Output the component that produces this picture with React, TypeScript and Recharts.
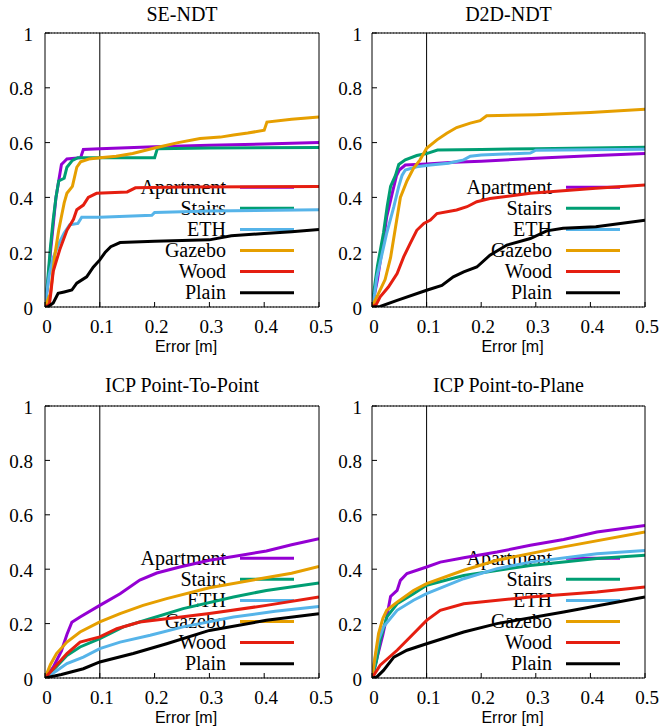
import React from 'react';
import { LineChart, Line, XAxis, YAxis, CartesianGrid, ReferenceLine, Legend, Label } from 'recharts';

type Pt = [number, number];

const seriesNames = ['Apartment', 'Stairs', 'ETH', 'Gazebo', 'Wood', 'Plain'];
const seriesColors = ['#9400D3', '#009E73', '#56B4E9', '#E69F00', '#E51E10', '#000000'];
const xTicks = [0, 0.1, 0.2, 0.3, 0.4, 0.5];
const yTicks = [0, 0.2, 0.4, 0.6, 0.8, 1];
const panelTitles = ['SE-NDT', 'D2D-NDT', 'ICP Point-To-Point', 'ICP Point-to-Plane'];
const errorThreshold = 0.1;

// SE-NDT
const seApartment: Pt[] = [[0, 0], [0.005, 0.08], [0.01, 0.2], [0.015, 0.3], [0.02, 0.4], [0.025, 0.46], [0.03, 0.52], [0.035, 0.53], [0.04, 0.54], [0.065, 0.545], [0.07, 0.575], [0.1, 0.578], [0.2, 0.585], [0.3, 0.59], [0.4, 0.595], [0.5, 0.6]];
const seStairs: Pt[] = [[0, 0], [0.005, 0.1], [0.01, 0.22], [0.015, 0.32], [0.02, 0.4], [0.025, 0.46], [0.035, 0.47], [0.04, 0.51], [0.05, 0.535], [0.06, 0.545], [0.2, 0.545], [0.205, 0.578], [0.3, 0.58], [0.5, 0.582]];
const seEth: Pt[] = [[0, 0], [0.003, 0.05], [0.008, 0.12], [0.015, 0.18], [0.025, 0.23], [0.035, 0.27], [0.045, 0.3], [0.06, 0.305], [0.067, 0.328], [0.1, 0.328], [0.195, 0.335], [0.2, 0.345], [0.3, 0.35], [0.5, 0.355]];
const seGazebo: Pt[] = [[0, 0], [0.01, 0.05], [0.018, 0.19], [0.025, 0.28], [0.03, 0.33], [0.035, 0.38], [0.04, 0.415], [0.05, 0.44], [0.058, 0.51], [0.065, 0.53], [0.08, 0.54], [0.1, 0.545], [0.13, 0.55], [0.16, 0.56], [0.2, 0.58], [0.243, 0.6], [0.283, 0.615], [0.32, 0.62], [0.344, 0.628], [0.37, 0.635], [0.4, 0.645], [0.405, 0.675], [0.45, 0.685], [0.5, 0.693]];
const seWood: Pt[] = [[0, 0], [0.008, 0.01], [0.01, 0.04], [0.015, 0.13], [0.027, 0.21], [0.04, 0.28], [0.052, 0.32], [0.058, 0.355], [0.07, 0.372], [0.079, 0.4], [0.094, 0.415], [0.15, 0.42], [0.165, 0.435], [0.25, 0.438], [0.5, 0.44]];
const sePlain: Pt[] = [[0, 0], [0.005, 0], [0.015, 0.015], [0.024, 0.05], [0.035, 0.055], [0.049, 0.062], [0.058, 0.087], [0.076, 0.11], [0.088, 0.145], [0.1, 0.172], [0.11, 0.2], [0.12, 0.22], [0.137, 0.235], [0.2, 0.24], [0.3, 0.245], [0.34, 0.26], [0.4, 0.268], [0.45, 0.275], [0.5, 0.283]];

// D2D-NDT
const d2dApartment: Pt[] = [[0, 0], [0.01, 0.1], [0.02, 0.23], [0.027, 0.33], [0.037, 0.415], [0.045, 0.48], [0.05, 0.5], [0.061, 0.518], [0.1, 0.522], [0.15, 0.528], [0.2, 0.532], [0.3, 0.543], [0.4, 0.552], [0.5, 0.56]];
const d2dStairs: Pt[] = [[0, 0], [0.005, 0.08], [0.01, 0.15], [0.021, 0.27], [0.028, 0.37], [0.034, 0.44], [0.043, 0.48], [0.049, 0.52], [0.061, 0.537], [0.082, 0.553], [0.1, 0.56], [0.12, 0.573], [0.2, 0.575], [0.3, 0.578], [0.4, 0.58], [0.5, 0.583]];
const d2dEth: Pt[] = [[0, 0], [0.005, 0.05], [0.009, 0.11], [0.018, 0.19], [0.027, 0.27], [0.04, 0.366], [0.049, 0.44], [0.055, 0.48], [0.061, 0.5], [0.082, 0.512], [0.107, 0.518], [0.14, 0.525], [0.168, 0.537], [0.18, 0.55], [0.2, 0.555], [0.29, 0.562], [0.3, 0.572], [0.4, 0.574], [0.5, 0.576]];
const d2dGazebo: Pt[] = [[0, 0], [0.012, 0.05], [0.024, 0.1], [0.034, 0.18], [0.043, 0.29], [0.052, 0.4], [0.064, 0.46], [0.076, 0.506], [0.088, 0.537], [0.1, 0.579], [0.119, 0.61], [0.137, 0.634], [0.155, 0.655], [0.18, 0.671], [0.198, 0.68], [0.21, 0.698], [0.3, 0.702], [0.4, 0.71], [0.5, 0.722]];
const d2dWood: Pt[] = [[0, 0], [0.008, 0.01], [0.015, 0.037], [0.03, 0.073], [0.046, 0.122], [0.058, 0.183], [0.07, 0.232], [0.082, 0.28], [0.095, 0.305], [0.107, 0.317], [0.119, 0.341], [0.155, 0.354], [0.174, 0.366], [0.192, 0.384], [0.216, 0.396], [0.29, 0.415], [0.41, 0.433], [0.5, 0.445]];
const d2dPlain: Pt[] = [[0, 0], [0.015, 0.002], [0.046, 0.024], [0.1, 0.061], [0.128, 0.079], [0.149, 0.11], [0.168, 0.128], [0.192, 0.146], [0.216, 0.189], [0.247, 0.226], [0.29, 0.25], [0.32, 0.278], [0.35, 0.287], [0.41, 0.293], [0.5, 0.317]];

// ICP point-to-point
const p2pApartment: Pt[] = [[0, 0], [0.015, 0.04], [0.03, 0.1], [0.04, 0.16], [0.049, 0.205], [0.064, 0.224], [0.1, 0.267], [0.137, 0.31], [0.173, 0.36], [0.204, 0.386], [0.246, 0.408], [0.3, 0.433], [0.344, 0.447], [0.404, 0.467], [0.45, 0.49], [0.5, 0.512]];
const p2pStairs: Pt[] = [[0, 0], [0.02, 0.04], [0.04, 0.083], [0.064, 0.114], [0.1, 0.145], [0.143, 0.188], [0.192, 0.218], [0.252, 0.255], [0.344, 0.298], [0.404, 0.322], [0.5, 0.349]];
const p2pEth: Pt[] = [[0, 0], [0.02, 0.025], [0.04, 0.053], [0.07, 0.077], [0.1, 0.108], [0.137, 0.132], [0.192, 0.157], [0.252, 0.188], [0.344, 0.224], [0.42, 0.245], [0.5, 0.263]];
const p2pGazebo: Pt[] = [[0, 0], [0.01, 0.05], [0.021, 0.09], [0.04, 0.132], [0.064, 0.169], [0.1, 0.206], [0.137, 0.237], [0.179, 0.267], [0.222, 0.292], [0.3, 0.332], [0.392, 0.365], [0.45, 0.385], [0.5, 0.41]];
const p2pWood: Pt[] = [[0, 0], [0.02, 0.045], [0.04, 0.09], [0.064, 0.132], [0.1, 0.151], [0.131, 0.181], [0.173, 0.206], [0.222, 0.218], [0.3, 0.237], [0.404, 0.267], [0.5, 0.298]];
const p2pPlain: Pt[] = [[0, 0], [0.03, 0.013], [0.07, 0.034], [0.1, 0.059], [0.161, 0.09], [0.222, 0.126], [0.3, 0.175], [0.404, 0.212], [0.5, 0.236]];

// ICP point-to-plane
const p2lApartment: Pt[] = [[0, 0], [0.01, 0.08], [0.02, 0.16], [0.027, 0.224], [0.034, 0.3], [0.046, 0.322], [0.052, 0.359], [0.064, 0.384], [0.1, 0.408], [0.125, 0.426], [0.168, 0.442], [0.229, 0.463], [0.29, 0.488], [0.351, 0.509], [0.412, 0.537], [0.5, 0.561]];
const p2lStairs: Pt[] = [[0, 0], [0.008, 0.06], [0.015, 0.138], [0.027, 0.224], [0.046, 0.273], [0.076, 0.31], [0.1, 0.341], [0.168, 0.377], [0.29, 0.414], [0.412, 0.439], [0.5, 0.451]];
const p2lEth: Pt[] = [[0, 0], [0.006, 0.077], [0.012, 0.14], [0.021, 0.188], [0.046, 0.249], [0.076, 0.286], [0.1, 0.31], [0.168, 0.365], [0.229, 0.402], [0.29, 0.426], [0.412, 0.457], [0.5, 0.469]];
const p2lGazebo: Pt[] = [[0, 0], [0.005, 0.07], [0.012, 0.163], [0.02, 0.22], [0.027, 0.249], [0.046, 0.279], [0.076, 0.322], [0.1, 0.347], [0.168, 0.396], [0.229, 0.433], [0.351, 0.482], [0.5, 0.537]];
const p2lWood: Pt[] = [[0, 0], [0.015, 0.047], [0.046, 0.102], [0.07, 0.151], [0.1, 0.212], [0.125, 0.249], [0.168, 0.273], [0.29, 0.298], [0.412, 0.316], [0.5, 0.335]];
const p2lPlain: Pt[] = [[0, 0], [0.009, 0.004], [0.021, 0.028], [0.04, 0.077], [0.064, 0.102], [0.1, 0.126], [0.168, 0.169], [0.229, 0.2], [0.351, 0.243], [0.5, 0.298]];

const SERIF = 'Liberation Serif, DejaVu Serif, serif';
const SANS = 'Liberation Sans, Arial, sans-serif';
const serifStyle = { fontFamily: SERIF };
const sansStyle = { fontFamily: SANS };

type Margin = { top: number; right: number; bottom: number; left: number };
type Panel = {
  title: string;
  series: Pt[][];
  left: number;
  top: number;
  width: number;
  height: number;
  plot: Margin; // distance from each chart edge to the plot frame
  titleGap: number;
  labelGap: number;
};

const panels: Panel[] = [
  { title: panelTitles[0], series: [seApartment, seStairs, seEth, seGazebo, seWood, sePlain], left: 0, top: 0, width: 345, height: 364, plot: { top: 33, right: 26, bottom: 57, left: 45 }, titleGap: 12, labelGap: 12 },
  { title: panelTitles[1], series: [d2dApartment, d2dStairs, d2dEth, d2dGazebo, d2dWood, d2dPlain], left: 330, top: 0, width: 330, height: 364, plot: { top: 33, right: 15, bottom: 57, left: 42 }, titleGap: 12, labelGap: 10 },
  { title: panelTitles[2], series: [p2pApartment, p2pStairs, p2pEth, p2pGazebo, p2pWood, p2pPlain], left: 0, top: 364, width: 345, height: 364, plot: { top: 42, right: 26, bottom: 50, left: 45 }, titleGap: 14, labelGap: 12 },
  { title: panelTitles[3], series: [p2lApartment, p2lStairs, p2lEth, p2lGazebo, p2lWood, p2lPlain], left: 330, top: 364, width: 330, height: 364, plot: { top: 42, right: 15, bottom: 50, left: 42 }, titleGap: 14, labelGap: 10 },
];

// each of the four axes takes 1px of room, so the chart margin is one less
const chartMargin = (m: Margin): Margin => ({ top: m.top - 1, right: m.right - 1, bottom: m.bottom - 1, left: m.left - 1 });

const BottomTick = (props: any) => {
  const { x, y, payload } = props;
  return (
    <g>
      <line x1={x} y1={y} x2={x} y2={y - 5} stroke="#000" />
      <text x={x + 2} y={y + 26} textAnchor="middle" style={serifStyle} fontSize={19} fill="#000">
        {String(payload.value)}
      </text>
    </g>
  );
};

const TopTick = (props: any) => {
  const { x, y } = props;
  return <line x1={x} y1={y} x2={x} y2={y + 5} stroke="#000" />;
};

const RightTick = (props: any) => {
  const { x, y } = props;
  return <line x1={x} y1={y} x2={x - 5} y2={y} stroke="#000" />;
};

const makeLeftTick = (gap: number) => (props: any) => {
  const { x, y, payload } = props;
  return (
    <g>
      <line x1={x} y1={y} x2={x + 5} y2={y} stroke="#000" />
      <text x={x - gap} y={y + 7.5} textAnchor="end" style={serifStyle} fontSize={19} fill="#000">
        {String(payload.value)}
      </text>
    </g>
  );
};

const makeTitle = (title: string, gap: number) => (props: any) => {
  const vb = props.viewBox || {};
  return (
    <text x={vb.x + vb.width / 2} y={vb.y + vb.height - gap} textAnchor="middle" style={serifStyle} fontSize={20} fill="#000">
      {title}
    </text>
  );
};

const errorLabel = (props: any) => {
  const vb = props.viewBox || {};
  return (
    <text x={vb.x + vb.width / 2 + 4} y={vb.y + 45} textAnchor="middle" style={sansStyle} fontSize={16} fill="#000">
      Error [m]
    </text>
  );
};

// Opaque key box with labels and line samples, placed near the lower right of the plot.
const KeyBox = ({ p }: { p: Panel }) => {
  const plotRight = p.width - p.plot.right;
  const plotBottom = p.height - p.plot.bottom;
  const rowY = (i: number) => plotBottom - 14.3 - (seriesNames.length - 1 - i) * 21.1;
  return (
    <svg width={p.width} height={p.height} style={{ display: 'block' }}>
      <rect x={plotRight - 206} y={rowY(0) - 11} width={195} height={plotBottom - 2 - (rowY(0) - 11)} fill="#fff" />
      {seriesNames.map((name, i) => (
        <g key={name}>
          <text x={plotRight - 93} y={rowY(i) + 6.7} textAnchor="end" style={serifStyle} fontSize={20} fill="#000">
            {name}
          </text>
          <line x1={plotRight - 79} y1={rowY(i)} x2={plotRight - 25} y2={rowY(i)} stroke={seriesColors[i]} strokeWidth={3} />
        </g>
      ))}
    </svg>
  );
};

const PanelChart = ({ p }: { p: Panel }) => (
  <div style={{ position: 'absolute', left: p.left, top: p.top, width: p.width, height: p.height }}>
    {/* grid and key underneath */}
    <div style={{ position: 'absolute', left: 0, top: 0 }}>
      <LineChart width={p.width} height={p.height} margin={chartMargin(p.plot)}>
        <CartesianGrid vertical={false} stroke="#555" strokeDasharray="1 2" />
        <XAxis xAxisId="b" type="number" dataKey="x" domain={[0, 0.5]} ticks={xTicks} interval={0} height={1} tick={false} axisLine={false} tickLine={false} />
        <XAxis xAxisId="t" orientation="top" type="number" domain={[0, 0.5]} ticks={xTicks} interval={0} height={1} tick={false} axisLine={false} tickLine={false} />
        <YAxis yAxisId="l" type="number" domain={[0, 1]} ticks={yTicks} interval={0} width={1} tick={false} axisLine={false} tickLine={false} />
        <YAxis yAxisId="r" orientation="right" type="number" domain={[0, 1]} ticks={yTicks} interval={0} width={1} tick={false} axisLine={false} tickLine={false} />
        <Legend
          layout="vertical"
          align="center"
          verticalAlign="middle"
          wrapperStyle={{ left: 0, top: 0, width: p.width, height: p.height }}
          content={() => <KeyBox p={p} />}
        />
      </LineChart>
    </div>
    {/* curves, frame and labels on top */}
    <div style={{ position: 'absolute', left: 0, top: 0 }}>
      <LineChart width={p.width} height={p.height} margin={chartMargin(p.plot)}>
        <XAxis
          xAxisId="b"
          type="number"
          dataKey="x"
          domain={[0, 0.5]}
          ticks={xTicks}
          interval={0}
          height={1}
          tickSize={0}
          tickMargin={0}
          tickLine={false}
          axisLine={{ stroke: '#000' }}
          tick={BottomTick}
          allowDataOverflow
        >
          <Label content={errorLabel} />
        </XAxis>
        <XAxis
          xAxisId="t"
          orientation="top"
          type="number"
          domain={[0, 0.5]}
          ticks={xTicks}
          interval={0}
          height={1}
          tickSize={0}
          tickMargin={0}
          tickLine={false}
          axisLine={{ stroke: '#000' }}
          tick={TopTick}
        >
          <Label content={makeTitle(p.title, p.titleGap)} />
        </XAxis>
        <YAxis
          yAxisId="l"
          type="number"
          domain={[0, 1]}
          ticks={yTicks}
          interval={0}
          width={1}
          tickSize={0}
          tickMargin={0}
          tickLine={false}
          axisLine={{ stroke: '#000' }}
          tick={makeLeftTick(p.labelGap)}
          allowDataOverflow
        />
        <YAxis
          yAxisId="r"
          orientation="right"
          type="number"
          domain={[0, 1]}
          ticks={yTicks}
          interval={0}
          width={1}
          tickSize={0}
          tickMargin={0}
          tickLine={false}
          axisLine={{ stroke: '#000' }}
          tick={RightTick}
        />
        <ReferenceLine xAxisId="b" yAxisId="l" x={errorThreshold} stroke="#000" strokeWidth={1} />
        {p.series.map((pts, i) => (
          <Line
            key={seriesNames[i]}
            xAxisId="b"
            yAxisId="l"
            name={seriesNames[i]}
            data={pts.map(([x, y]) => ({ x, y }))}
            dataKey="y"
            type="linear"
            stroke={seriesColors[i]}
            strokeWidth={3}
            dot={false}
            activeDot={false}
            isAnimationActive={false}
          />
        ))}
      </LineChart>
    </div>
  </div>
);

export default function App() {
  return (
    <div style={{ position: 'absolute', left: 0, top: 0, width: 660, height: 728, overflow: 'hidden', background: '#fff' }}>
      {panels.map((p) => (
        <PanelChart key={p.title} p={p} />
      ))}
    </div>
  );
}
